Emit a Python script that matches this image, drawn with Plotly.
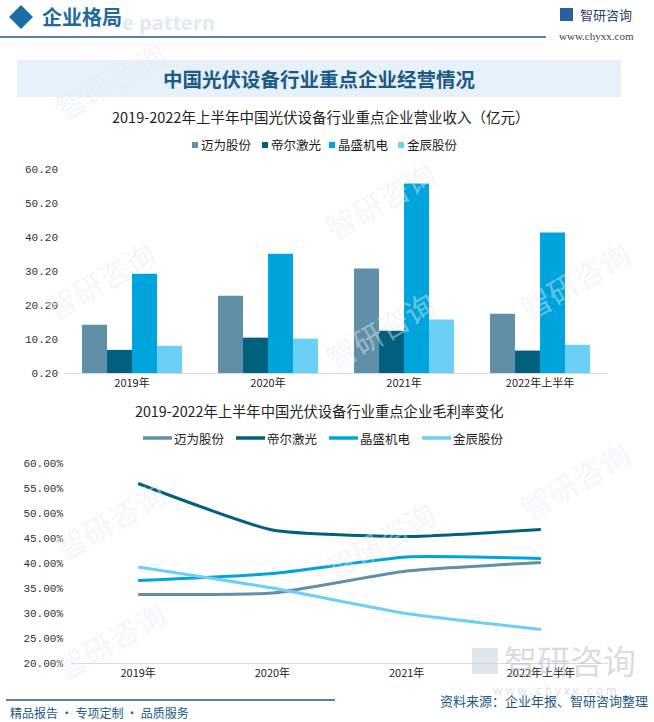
import plotly.graph_objects as go

# ===============================
# DATA
# ===============================
YEARS = ["2019年", "2020年", "2021年", "2022年上半年"]
COMPANIES = ["迈为股份", "帝尔激光", "晶盛机电", "金辰股份"]
COLORS = ["#5f90a8", "#02607f", "#00a4dc", "#6ccff5"]

# 营业收入（亿元）
REV_MAIWEI = [14.4, 22.9, 30.9, 17.6]
REV_DIER = [7.0, 10.6, 12.6, 6.8]
REV_JINGSHENG = [29.4, 35.3, 55.9, 41.5]
REV_JINCHEN = [8.2, 10.3, 15.9, 8.5]

# 毛利率（%）
GM_MAIWEI = [33.7, 34.0, 38.4, 40.1]
GM_DIER = [55.9, 46.6, 45.3, 46.7]
GM_JINGSHENG = [36.5, 37.9, 41.2, 40.9]
GM_JINCHEN = [39.2, 35.0, 29.9, 26.7]

REV_TICKS = [0.2, 10.2, 20.2, 30.2, 40.2, 50.2, 60.2]
GM_TICKS = [20, 25, 30, 35, 40, 45, 50, 55, 60]

# ===============================
# CONFIG
# ===============================
W, H = 654, 722
CJK = "Noto Sans CJK SC"
NUM = "Liberation Mono"
DARK_BLUE = "#1b5a85"


def px_x(x):
    return x / W


def px_y(y):
    return 1 - y / H


fig = go.Figure()

rev = [REV_MAIWEI, REV_DIER, REV_JINGSHENG, REV_JINCHEN]
for name, vals, col in zip(COMPANIES, rev, COLORS):
    fig.add_bar(x=YEARS, y=[v - 0.2 for v in vals], base=0.2, name=name,
                marker=dict(color=col, line=dict(width=0)),
                xaxis="x", yaxis="y", showlegend=False)

gm = [GM_MAIWEI, GM_DIER, GM_JINGSHENG, GM_JINCHEN]
for name, vals, col in zip(COMPANIES, gm, COLORS):
    fig.add_scatter(x=YEARS, y=vals, name=name, mode="lines",
                    line=dict(color=col, width=3, shape="spline", smoothing=0.5),
                    xaxis="x2", yaxis="y2", showlegend=False)

axis_common = dict(showgrid=False, zeroline=False, ticks="", fixedrange=True,
                   automargin=False)

fig.update_layout(
    width=W, height=H,
    margin=dict(l=0, r=0, t=0, b=0, autoexpand=False),
    paper_bgcolor="white", plot_bgcolor="rgba(0,0,0,0)",
    font=dict(family=CJK, color="#222222", size=12),
    barmode="group", bargap=0.265, bargroupgap=0,
    xaxis=dict(domain=[px_x(64), px_x(608)], anchor="y", showline=True,
               linecolor="#d9d9d9", linewidth=1, range=[-0.5, 3.5],
               tickfont=dict(family=CJK, size=11, color="#222"), **axis_common),
    yaxis=dict(domain=[px_y(373), px_y(169)], anchor="x", range=[0.2, 60.2],
               tickvals=REV_TICKS, ticktext=[f"{t:.2f}" for t in REV_TICKS],
               tickfont=dict(family=NUM, size=11, color="#333"),
               ticklabelstandoff=5, showline=False, **axis_common),
    xaxis2=dict(domain=[px_x(71), px_x(608)], anchor="y2", showline=True,
                linecolor="#d9d9d9", linewidth=1, range=[-0.5, 3.5],
                tickfont=dict(family=CJK, size=11, color="#222"), **axis_common),
    yaxis2=dict(domain=[px_y(663), px_y(463)], anchor="x2", range=[20, 60],
                tickvals=GM_TICKS, ticktext=[f"{t:.2f}%" for t in GM_TICKS],
                tickfont=dict(family=NUM, size=11, color="#333"),
                ticklabelstandoff=7, showline=False, **axis_common),
)


def note(x, y, text, size, color, xanchor="center", family=CJK, bold=False, angle=0):
    if bold:
        text = f"<b>{text}</b>"
    fig.add_annotation(x=px_x(x), y=px_y(y), xref="paper", yref="paper",
                       text=text, showarrow=False, xanchor=xanchor,
                       yanchor="middle", textangle=angle,
                       font=dict(family=family, size=size, color=color))


shapes = [
    # header diamond
    dict(type="path", xref="paper", yref="paper",
         path=f"M {px_x(9)} {px_y(17)} L {px_x(21)} {px_y(5)} L {px_x(33)} {px_y(17)} L {px_x(21)} {px_y(29)} Z",
         fillcolor="#1a6ea8", line=dict(width=0)),
    # header rule
    dict(type="line", xref="paper", yref="paper", x0=0, x1=px_x(546),
         y0=px_y(37), y1=px_y(37), line=dict(color=DARK_BLUE, width=1.5)),
    # title box
    dict(type="rect", xref="paper", yref="paper", x0=px_x(17), x1=px_x(621),
         y0=px_y(97), y1=px_y(60), fillcolor="#e6f1f9", line=dict(width=0),
         layer="below"),
    # footer rule
    dict(type="line", xref="paper", yref="paper", x0=px_x(6), x1=px_x(335),
         y0=px_y(700), y1=px_y(700), line=dict(color=DARK_BLUE, width=1.5)),
    # small logo square
    dict(type="rect", xref="paper", yref="paper", x0=px_x(560), x1=px_x(573),
         y0=px_y(21), y1=px_y(8), fillcolor="#2b5f9e", line=dict(width=0)),
    # faint bottom-right logo mark
    dict(type="rect", xref="paper", yref="paper", x0=px_x(472), x1=px_x(498),
         y0=px_y(674), y1=px_y(648), fillcolor="rgba(205,212,224,0.6)",
         line=dict(width=0), layer="below"),
]

# manual legends (small squares for bars, short strokes for lines)
sq_x = [192, 262, 329, 398]
ln_x = [143, 236, 329, 422]
for i, (name, col) in enumerate(zip(COMPANIES, COLORS)):
    shapes.append(dict(type="rect", xref="paper", yref="paper",
                       x0=px_x(sq_x[i]), x1=px_x(sq_x[i] + 6),
                       y0=px_y(148), y1=px_y(142), fillcolor=col,
                       line=dict(width=0)))
    note(sq_x[i] + 7, 145, name, 12.5, "#222222", xanchor="left")
    shapes.append(dict(type="line", xref="paper", yref="paper",
                       x0=px_x(ln_x[i]), x1=px_x(ln_x[i] + 29),
                       y0=px_y(438), y1=px_y(438),
                       line=dict(color=col, width=3.5)))
    note(ln_x[i] + 29, 438, name, 12.5, "#222222", xanchor="left")

fig.update_layout(shapes=shapes)

# watermarks (faint)
for wx, wy in [(110, 80), (100, 280), (380, 200), (380, 330), (110, 520),
               (380, 540), (110, 640), (575, 280), (575, 480)]:
    note(wx, wy, "智研咨询", 30, "rgba(230,236,242,0.45)", angle=-30)

note(120, 22, "e pattern", 20, "#dfeaf4", xanchor="left",
     family="Open Sans", bold=True)
note(40, 17, "企业格局", 20, "#1d6a9c", xanchor="left", bold=True)
note(578, 14, "智研咨询", 13, "#1f3f66", xanchor="left")
note(596, 36, "www.chyxx.com", 11, "#444444", family="Liberation Serif")
note(319, 79, "中国光伏设备行业重点企业经营情况", 19.5, DARK_BLUE, bold=True)
note(320, 116, "2019-2022年上半年中国光伏设备行业重点企业营业收入（亿元）", 14.5, "#222222")
note(319, 410, "2019-2022年上半年中国光伏设备行业重点企业毛利率变化", 14.3, "#222222")
note(570, 660, "智研咨询", 33, "rgba(170,176,188,0.45)")
note(555, 689, "w w w . c h y x x . c o m", 12, "rgba(180,186,196,0.45)")
note(650, 700, "资料来源：企业年报、智研咨询整理", 13, DARK_BLUE, xanchor="right")
note(8, 712, "精品报告 · 专项定制 · 品质服务", 12, DARK_BLUE, xanchor="left")

fig.write_html("out.html", config={"displayModeBar": False},
               post_script="document.body.style.margin='0';document.body.style.overflow='hidden';")
